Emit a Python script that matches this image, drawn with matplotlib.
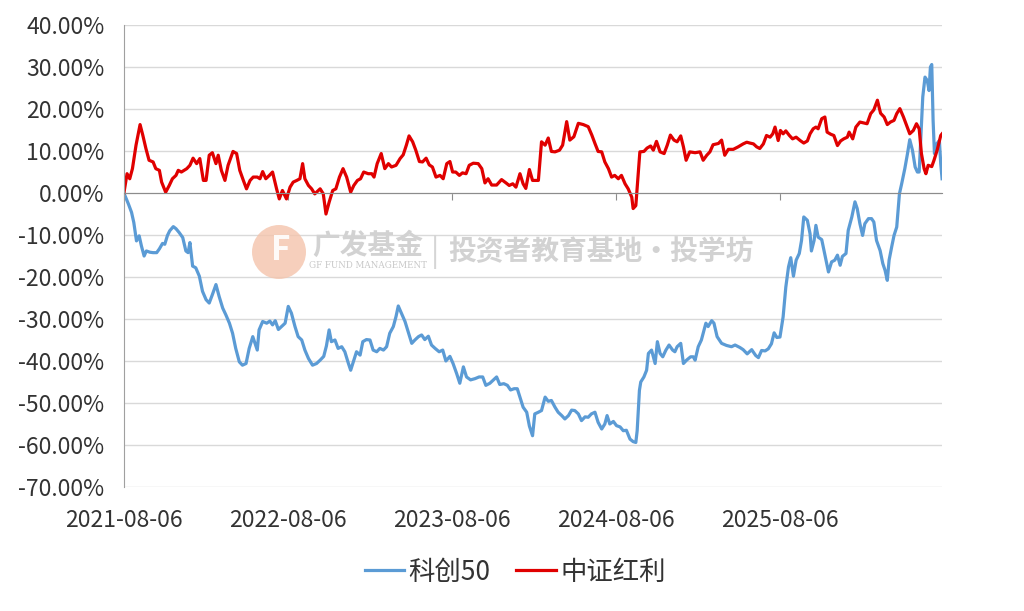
import pandas as pd
import matplotlib
matplotlib.use("Agg")
import matplotlib.pyplot as plt
from matplotlib.patches import Ellipse

plt.rcParams['font.family'] = ['Noto Sans CJK SC', 'DejaVu Sans']

start = pd.Timestamp('2021-08-06')
end_days = 1822

# 科创50: days since 2021-08-06, cumulative return (%)
kc50_days = [0, 10, 17, 22, 28, 34, 39, 45, 50, 58, 65, 73, 79, 86, 91, 97, 102, 110, 116, 123,
             131, 138, 143, 147, 153, 160, 168, 175, 183, 190, 197, 205, 212, 220, 227, 235, 242, 249, 257, 264,
             272, 279, 287, 292, 297, 301, 309, 318, 325, 331, 337, 344, 351, 359, 366, 373, 381, 388, 396, 403,
             411, 420, 429, 437, 445, 451, 457, 462, 470, 477, 485, 492, 500, 505, 511, 518, 526, 532, 540, 548,
             555, 563, 570, 578, 585, 592, 600, 606, 611, 618, 626, 633, 641, 648, 656, 663, 670, 678, 685, 693,
             702, 710, 717, 726, 733, 741, 748, 756, 763, 772, 782, 791, 799, 806, 815, 823, 830, 837, 846, 854,
             861, 869, 876, 882, 889, 897, 903, 910, 915, 923, 930, 938, 945, 952, 960, 967, 975, 982, 990, 997,
             1004, 1012, 1019, 1027, 1034, 1041, 1049, 1056, 1064, 1071, 1076, 1082, 1090, 1097, 1105, 1112, 1119, 1127, 1134, 1140,
             1143, 1148, 1151, 1158, 1164, 1168, 1175, 1183, 1188, 1194, 1200, 1207, 1214, 1222, 1227, 1232, 1240, 1246, 1253, 1262,
             1268, 1272, 1279, 1286, 1292, 1296, 1301, 1309, 1314, 1321, 1331, 1342, 1353, 1361, 1372, 1379, 1388, 1398, 1407, 1413,
             1420, 1428, 1435, 1442, 1448, 1454, 1461, 1468, 1474, 1480, 1485, 1491, 1497, 1504, 1509, 1514, 1522, 1528, 1531, 1537,
             1541, 1546, 1554, 1559, 1565, 1569, 1576, 1583, 1589, 1595, 1600, 1608, 1613, 1621, 1628, 1633, 1639, 1645, 1650, 1658,
             1665, 1670, 1676, 1684, 1690, 1695, 1700, 1704, 1710, 1715, 1721, 1727, 1732, 1739, 1745, 1750, 1756, 1762, 1767, 1771,
             1774, 1779, 1784, 1789, 1793, 1796, 1799, 1802, 1805, 1810, 1816, 1819, 1822]
kc50_vals = [0.0, -2.6, -4.6, -7.0, -11.4, -10.2, -12.6, -15.0, -13.8, -14.1, -14.2, -14.2, -13.3, -12.0, -12.2, -10.1, -9.0, -8.0, -8.5, -9.4,
             -10.6, -13.8, -14.2, -11.8, -17.4, -17.8, -19.8, -23.4, -25.4, -26.2, -24.2, -21.8, -24.6, -27.4, -29.0, -31.0, -33.4, -37.0, -40.2, -41.0,
             -40.6, -37.0, -34.2, -35.8, -37.4, -32.6, -30.6, -31.0, -30.5, -31.4, -30.4, -32.5, -31.8, -31.0, -27.0, -28.6, -31.8, -34.2, -35.0, -37.4,
             -39.4, -41.0, -40.6, -39.8, -38.9, -36.4, -32.6, -35.4, -35.0, -37.0, -36.6, -37.8, -40.6, -42.2, -40.2, -37.8, -38.6, -35.4, -34.9, -35.0,
             -37.4, -37.8, -37.0, -37.4, -36.6, -33.4, -31.8, -29.4, -26.9, -28.6, -30.6, -33.0, -35.8, -35.0, -34.2, -33.8, -34.9, -34.1, -36.2, -37.0,
             -37.8, -37.4, -40.0, -38.9, -40.6, -43.0, -45.3, -41.4, -43.8, -44.5, -44.2, -43.8, -43.8, -45.8, -45.3, -44.5, -43.8, -45.6, -45.4, -45.8,
             -46.9, -46.6, -46.6, -48.6, -51.0, -52.2, -55.5, -57.8, -52.6, -52.2, -51.8, -48.6, -49.6, -49.4, -51.0, -52.2, -53.0, -53.8, -53.0, -51.7,
             -51.8, -52.6, -54.2, -53.3, -53.4, -52.6, -52.2, -54.6, -56.2, -55.0, -53.0, -55.0, -54.4, -55.4, -55.7, -56.6, -56.5, -58.6, -59.2, -59.4,
             -56.6, -47.0, -45.0, -43.8, -42.2, -38.2, -37.4, -40.6, -35.4, -38.2, -39.0, -37.4, -36.2, -37.4, -37.8, -36.6, -35.8, -40.6, -39.8, -39.0,
             -39.0, -39.8, -36.6, -35.0, -32.6, -31.0, -31.8, -30.4, -31.0, -34.2, -35.8, -36.3, -36.6, -36.2, -36.8, -37.3, -38.3, -37.3, -38.7, -39.2,
             -37.5, -37.6, -37.1, -35.9, -33.3, -34.4, -34.3, -29.5, -22.4, -17.6, -15.4, -19.8, -16.0, -14.4, -11.3, -5.7, -6.5, -9.7, -13.8, -11.3,
             -7.7, -10.5, -11.1, -13.7, -16.8, -18.8, -16.4, -16.0, -14.8, -17.2, -15.1, -14.4, -8.9, -5.7, -2.1, -3.7, -7.3, -10.1, -7.3, -6.1,
             -6.1, -6.9, -11.3, -13.7, -16.8, -18.4, -20.8, -16.0, -12.7, -10.1, -8.1, -0.2, 2.2, 5.8, 9.4, 12.7, 10.2, 6.2, 5.0, 5.0,
             11.7, 22.9, 27.6, 26.8, 24.4, 30.0, 30.6, 17.3, 9.4, 11.7, 12.5, 7.0, 3.4]

# 中证红利: days since 2021-08-06, cumulative return (%)
hl_days = [0, 7, 13, 19, 27, 36, 42, 49, 56, 65, 71, 79, 84, 93, 101, 108, 116, 121, 128, 140,
           147, 154, 162, 169, 177, 183, 190, 197, 205, 210, 217, 225, 232, 243, 251, 258, 266, 273, 281, 288,
           297, 303, 309, 316, 324, 331, 340, 346, 353, 362, 370, 377, 385, 392, 398, 403, 411, 418, 425, 437,
           444, 450, 457, 465, 472, 480, 488, 496, 505, 512, 520, 527, 534, 544, 552, 557, 564, 573, 581, 589,
           596, 606, 615, 622, 629, 635, 643, 650, 658, 665, 673, 680, 687, 695, 704, 711, 719, 726, 732, 739,
           747, 754, 762, 769, 778, 789, 797, 804, 811, 819, 830, 841, 851, 858, 866, 873, 882, 889, 895, 903,
           910, 923, 930, 938, 945, 952, 960, 970, 977, 986, 993, 1002, 1012, 1023, 1034, 1042, 1049, 1056, 1064, 1071,
           1079, 1086, 1093, 1101, 1108, 1116, 1123, 1131, 1134, 1140, 1145, 1149, 1158, 1165, 1173, 1179, 1186, 1194, 1203, 1210,
           1217, 1225, 1232, 1240, 1246, 1252, 1260, 1272, 1283, 1290, 1298, 1305, 1312, 1324, 1331, 1338, 1346, 1357, 1368, 1379,
           1387, 1394, 1402, 1409, 1416, 1424, 1431, 1439, 1445, 1450, 1457, 1462, 1468, 1474, 1482, 1489, 1497, 1506, 1514, 1522,
           1528, 1535, 1541, 1546, 1554, 1561, 1566, 1574, 1581, 1589, 1596, 1603, 1611, 1615, 1623, 1630, 1639, 1647, 1655, 1663,
           1670, 1678, 1685, 1693, 1700, 1707, 1715, 1721, 1728, 1736, 1743, 1750, 1758, 1765, 1771, 1776, 1782, 1786, 1791, 1799,
           1804, 1811, 1819, 1822]
hl_vals = [0.0, 4.6, 3.4, 5.8, 11.4, 16.3, 13.8, 10.6, 7.8, 7.4, 5.8, 5.4, 2.6, 0.2, 1.8, 3.4, 4.2, 5.4, 5.0, 5.8,
           6.6, 8.3, 7.0, 8.2, 3.0, 3.0, 9.0, 9.6, 7.0, 9.0, 5.4, 3.0, 6.6, 9.9, 9.4, 5.4, 3.0, 1.0, 3.0, 3.8,
           3.8, 3.4, 5.1, 3.4, 4.2, 5.0, 1.0, -1.4, 0.6, -1.4, 1.4, 2.6, 3.0, 3.4, 7.0, 3.4, 1.8, 1.0, -0.2, 1.0,
           -0.2, -5.0, -2.2, 0.6, 1.0, 3.8, 5.8, 3.8, 0.2, 1.8, 3.0, 3.4, 5.0, 4.6, 4.6, 3.8, 7.0, 9.4, 5.8, 7.0,
           6.2, 6.6, 8.2, 9.1, 11.4, 13.6, 12.2, 10.2, 7.5, 7.4, 8.3, 6.7, 6.2, 3.8, 4.2, 3.4, 7.0, 7.5, 5.0, 5.0,
           4.2, 4.8, 4.6, 6.6, 7.1, 7.0, 5.8, 2.4, 3.4, 1.9, 1.9, 3.2, 2.4, 1.8, 2.2, 1.4, 4.6, 2.2, 1.1, 5.6,
           3.0, 3.0, 12.2, 11.4, 13.1, 9.9, 9.8, 10.2, 11.4, 17.0, 12.6, 13.4, 16.6, 16.3, 15.8, 13.8, 11.8, 9.9, 9.8, 7.4,
           5.8, 3.8, 4.2, 3.4, 4.2, 2.2, 1.0, -1.0, -3.7, -3.0, 4.2, 9.8, 9.9, 10.7, 11.2, 10.2, 12.3, 9.8, 9.4, 11.4,
           13.8, 12.6, 12.2, 13.6, 11.0, 7.8, 9.8, 9.6, 9.8, 7.8, 9.0, 9.8, 11.5, 11.8, 12.6, 9.0, 10.4, 10.4, 11.0, 11.7,
           12.1, 11.9, 11.7, 11.0, 10.6, 11.7, 13.7, 13.3, 14.1, 15.7, 12.5, 14.9, 14.1, 14.8, 13.7, 12.9, 13.3, 12.5, 11.9, 12.4,
           14.1, 15.3, 15.7, 15.3, 17.7, 18.1, 14.5, 14.0, 13.7, 11.3, 12.4, 12.9, 13.3, 14.5, 12.9, 15.7, 16.9, 16.7, 16.5, 18.9,
           19.8, 22.1, 19.0, 18.1, 16.3, 16.9, 17.3, 18.9, 20.1, 18.1, 16.1, 14.1, 14.9, 16.5, 15.3, 9.4, 5.8, 4.6, 6.6, 6.3,
           7.8, 10.2, 13.7, 14.1]

tick_labels = ['2021-08-06', '2022-08-06', '2023-08-06', '2024-08-06', '2025-08-06']
y_ticks = [40, 30, 20, 10, 0, -10, -20, -30, -40, -50, -60, -70]

kc50_x = start + pd.to_timedelta(kc50_days, unit='D')
hl_x = start + pd.to_timedelta(hl_days, unit='D')

fig = plt.figure(figsize=(10.24, 6.11), dpi=100)
ax = fig.add_axes([0.121, 0.203, 0.799, 0.756])

ax.plot(kc50_x, kc50_vals, color='#5b9bd5', lw=2.3, label='科创50', solid_joinstyle='round')
ax.plot(hl_x, hl_vals, color='#e00000', lw=2.3, label='中证红利', solid_joinstyle='round')

ax.set_ylim(-70, 40)
ax.set_xlim(start, start + pd.Timedelta(days=end_days))
ax.set_yticks(y_ticks)
ax.set_yticklabels([f'{v:.2f}%' for v in y_ticks])
ax.grid(axis='y', color='#d9d9d9', lw=1)
ax.set_axisbelow(True)
ax.tick_params(axis='y', length=0, pad=14, labelsize=16.5, labelcolor='#333333')

for s in ['top', 'right']:
    ax.spines[s].set_visible(False)
ax.spines['left'].set_color('#a0a0a0')
ax.spines['bottom'].set_position(('data', 0))
ax.spines['bottom'].set_color('#8c8c8c')

ticks = [pd.Timestamp(t) for t in tick_labels]
ax.set_xticks(ticks)
ax.set_xticklabels([])
ax.tick_params(axis='x', direction='out', length=5, color='#8c8c8c')

sec = ax.secondary_xaxis('bottom')
sec.set_xticks(ticks)
sec.set_xticklabels(tick_labels)
sec.spines['bottom'].set_visible(False)
sec.tick_params(length=0, pad=16, labelsize=16.5, labelcolor='#333333')

# watermark
fig.patches.append(Ellipse((279 / 1024, 1 - 252 / 611), 54 / 1024, 54 / 611, transform=fig.transFigure,
                           facecolor='#f4c4ac', edgecolor='none', alpha=0.8, zorder=0.5))
fig.text(281 / 1024, 1 - 251 / 611, 'F', fontsize=24, fontstyle='italic', fontweight='bold',
         color='white', ha='center', va='center', alpha=0.9)
fig.text(368 / 1024, 1 - 246 / 611, '广发基金', fontsize=20, fontweight='bold',
         color='#d2d2d2', ha='center', va='center')
fig.text(368 / 1024, 1 - 266 / 611, 'GF FUND MANAGEMENT', fontsize=6.3, family='DejaVu Serif',
         color='#c8c8c8', ha='center', va='center')
fig.text(435 / 1024, 1 - 252 / 611, '|', fontsize=22, color='#d5d5d5', ha='center', va='center')
fig.text(601 / 1024, 1 - 252 / 611, '投资者教育基地·投学坊', fontsize=20, fontweight='bold',
         color='#d2d2d2', ha='center', va='center')

fig.legend(loc='center', bbox_to_anchor=(515 / 1024, 1 - 572 / 611), ncol=2, frameon=False,
           fontsize=19, handlelength=1.5, handletextpad=0.15, columnspacing=1.0,
           labelcolor='#333333')

fig.savefig('out.png', dpi=100)
